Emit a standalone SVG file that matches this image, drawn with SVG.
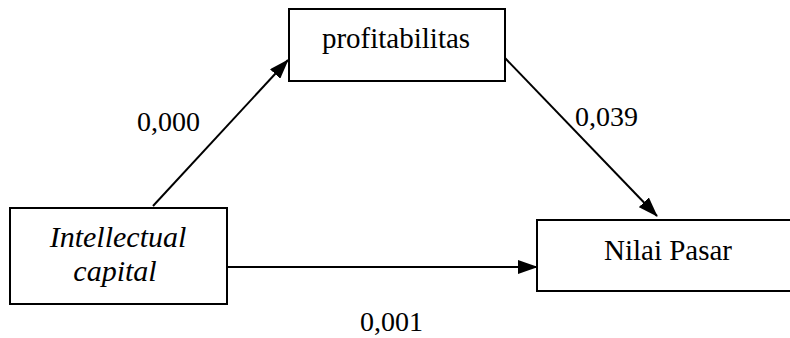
<svg xmlns="http://www.w3.org/2000/svg" width="790" height="338" viewBox="0 0 790 338">
  <style>
    .box { fill: #ffffff; stroke: #000000; stroke-width: 2; }
    .edge { stroke: #000000; stroke-width: 2; fill: none; marker-end: url(#arrow); }
    text { font-family: "Times New Roman", "Liberation Serif", "DejaVu Serif", serif; fill: #000000; }
  </style>
  <defs>
    <marker id="arrow" markerUnits="userSpaceOnUse" markerWidth="20" markerHeight="14" viewBox="0 0 20 14" refX="19" refY="7" orient="auto">
      <path d="M0,0 L20,7 L0,14 z" fill="#000000"/>
    </marker>
  </defs>
  <rect width="790" height="338" fill="#ffffff"/>
  <g id="connectors">
    <line class="edge" x1="153" y1="206" x2="288" y2="60"/>
    <line class="edge" x1="505" y1="58" x2="657" y2="216"/>
    <line class="edge" x1="227" y1="267" x2="537" y2="267"/>
    <g font-size="28">
      <text x="137" y="131">0,000</text>
      <text x="575" y="126">0,039</text>
      <text x="360" y="331">0,001</text>
    </g>
  </g>
  <g id="profitabilitas" font-size="29">
    <rect class="box" x="289" y="9" width="216" height="72"/>
    <text x="396" y="48" text-anchor="middle">profitabilitas</text>
  </g>
  <g id="intellectual-capital" font-size="30" font-style="italic">
    <rect class="box" x="10" y="208" width="217" height="96"/>
    <text x="118" y="247" text-anchor="middle">Intellectual</text>
    <text x="115" y="281" text-anchor="middle">capital</text>
  </g>
  <g id="nilai-pasar" font-size="29">
    <rect class="box" x="537" y="220" width="262" height="71"/>
    <text x="668" y="260" text-anchor="middle">Nilai Pasar</text>
  </g>
</svg>
